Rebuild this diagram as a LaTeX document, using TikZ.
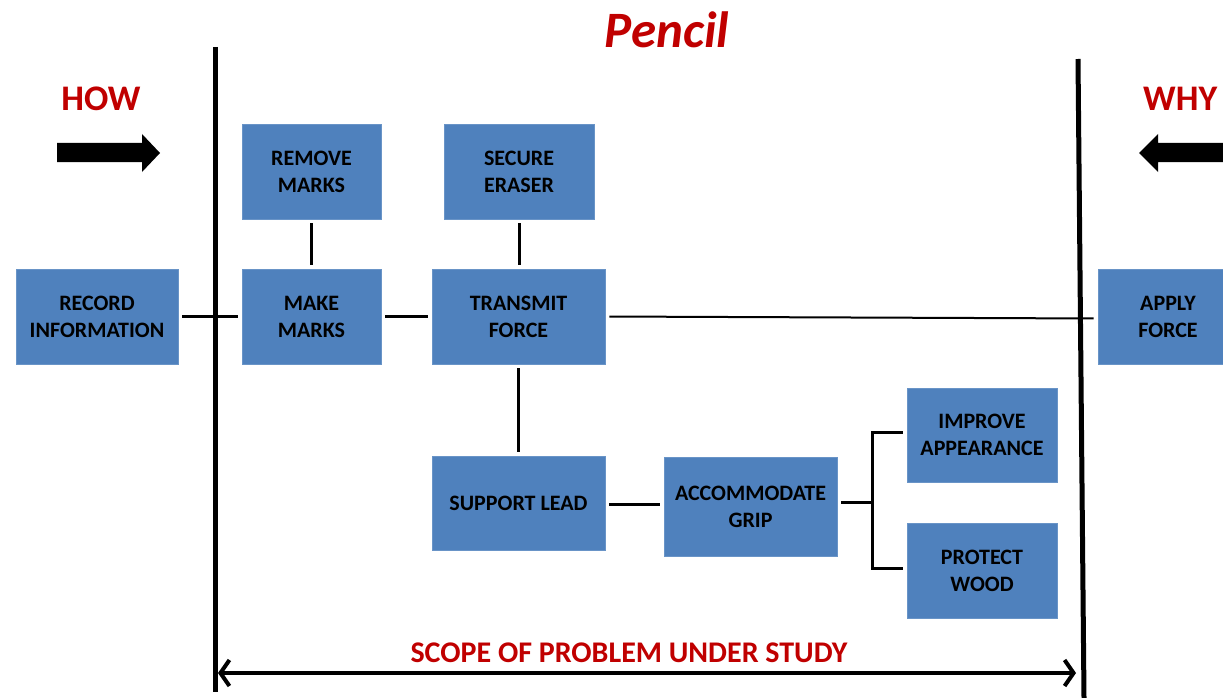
\documentclass[tikz,border=0pt]{standalone}
\usepackage{fontspec}
\setmainfont{Carlito}
\usetikzlibrary{arrows.meta}
\definecolor{boxblue}{HTML}{4F81BD}
\definecolor{titlered}{HTML}{C00000}
\tikzset{
  fnbox/.style={fill=boxblue, draw=boxblue!85!white, line width=0.6pt, inner sep=0pt,
    align=center, font=\fontsize{22}{27}\selectfont\bfseries, text=black},
  link/.style={line width=3pt, shorten <=4pt, shorten >=4pt},
  thinlink/.style={line width=2pt, shorten <=4pt, shorten >=4pt},
  scopeline/.style={line width=5pt},
  heading/.style={text=titlered, font=\fontsize{36}{40}\selectfont\bfseries},
}
\begin{document}
\begin{tikzpicture}[x=1pt, y=-1pt]
\useasboundingbox (0,0) rectangle (1223,698);

% title and direction labels
\node[text=titlered, font=\fontsize{51}{56}\selectfont\bfseries\itshape] (title) at (667,30) {Pencil};
\node[heading] (how) at (101,99) {HOW};
\node[heading, anchor=west, inner sep=0pt] (why) at (1143,99) {WHY};

% direction arrows
\fill (57,143) -- (142,143) -- (142,134) -- (160,153) -- (142,172) -- (142,162) -- (57,162) -- cycle;
\fill (1240,143) -- (1158,143) -- (1158,134) -- (1139,153) -- (1158,172) -- (1158,162) -- (1240,162) -- cycle;

% scope boundaries
\coordinate (lt) at (215,47);
\coordinate (lb) at (215,692);
\coordinate (rt) at (1078,59);
\coordinate (rb) at (1084,698);
\draw[scopeline] (lt) -- (lb);
\draw[scopeline] (rt) -- (rb);

% function boxes
\node[fnbox, minimum width=162pt, minimum height=95pt] (rec)   at (97,316.5)   {RECORD\\INFORMATION};
\node[fnbox, minimum width=139pt, minimum height=95pt] (rem)   at (311.5,171.5) {REMOVE\\MARKS};
\node[fnbox, minimum width=139pt, minimum height=95pt] (make)  at (311.5,316.5) {MAKE\\MARKS};
\node[fnbox, minimum width=150pt, minimum height=95pt] (sec)   at (519,171.5)   {SECURE\\ERASER};
\node[fnbox, minimum width=173pt, minimum height=95pt] (trans) at (518.5,316.5) {TRANSMIT\\FORCE};
\node[fnbox, minimum width=140pt, minimum height=95pt] (apply) at (1168,316.5)  {APPLY\\FORCE};
\node[fnbox, minimum width=173pt, minimum height=94pt] (sup)   at (518.5,503)   {SUPPORT LEAD};
\node[fnbox, minimum width=173pt, minimum height=99pt] (acc)   at (750.5,506.5) {ACCOMMODATE\\GRIP};
\node[fnbox, minimum width=150pt, minimum height=94pt] (imp)   at (982,435)     {IMPROVE\\APPEARANCE};
\node[fnbox, minimum width=150pt, minimum height=95pt] (prot)  at (982,570.5)   {PROTECT\\WOOD};

% connectors
\draw[link] (rec.east) -- (make.west);
\draw[link] (make.east) -- (trans.west);
\draw[link] (rem.south) -- (make.north);
\draw[link] (sec.south) -- (sec.south |- trans.north);
\draw[link] (trans.south) -- (sup.north);
\draw[link] ([yshift=-1pt]sup.east) -- ([yshift=-1pt]sup.east -| acc.west);
\draw[thinlink] (trans.east) -- ([yshift=-2pt]apply.west);

% bracket joining the two secondary functions
\coordinate (brk) at (872,502);
\coordinate (bt) at (872,432);
\coordinate (bb) at (872,568);
\draw[line width=3pt, shorten <=4pt] (acc.east |- brk) -- (brk);
\draw[line width=3pt, shorten <=4pt, shorten >=4pt] (imp.west |- bt) -- (bt) -- (bb) -- (prot.west |- bb);

% scope arrow
\coordinate (sl) at (218,673);
\coordinate (sr) at (1076,673);
\draw[line width=4pt, {Straight Barb[length=9pt, width=26pt]}-{Straight Barb[length=9pt, width=26pt]}] (sl) -- (sr);
\node[text=titlered, font=\fontsize{30}{34}\selectfont\bfseries] (scope) at (629,653) {SCOPE OF PROBLEM UNDER STUDY};
\end{tikzpicture}
\end{document}
